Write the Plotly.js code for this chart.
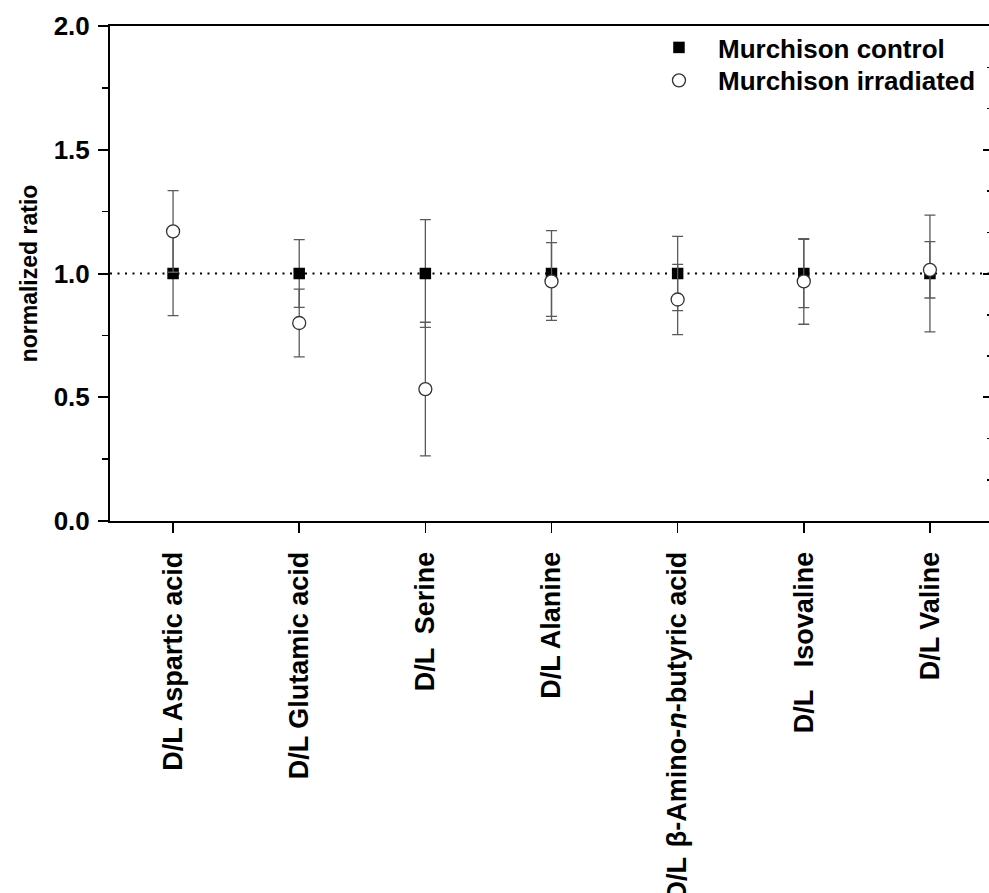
<!DOCTYPE html>
<html>
<head>
<meta charset="utf-8">
<script src="https://cdn.plot.ly/plotly-3.0.1.min.js"></script>
<style>
html, body { margin: 0; padding: 0; overflow: hidden; background: #fff; }
#chart { width: 1000px; height: 893px; }
</style>
</head>
<body>
<div id="chart"></div>
<script>
// ---- data ----
const categories = [
  "D/L Aspartic acid",
  "D/L Glutamic acid",
  "D/L\u2002Serine",
  "D/L Alanine",
  "D/L\u00A0\u200A\u03B2-Amino-<i>n</i>-butyric acid",
  "D/L\u00A0\u00A0\u00A0Isovaline",
  "D/L Valine"
];
const controlValues = [1.0, 1.0, 1.0, 1.0, 1.0, 1.0, 1.0];
const controlErrors = [0.17, 0.137, 0.218, 0.173, 0.15, 0.138, 0.236];
const irradiatedValues = [1.17, 0.80, 0.533, 0.968, 0.895, 0.968, 1.015];
const irradiatedErrors = [0.165, 0.137, 0.27, 0.157, 0.142, 0.173, 0.114];
const referenceLevel = 1.0;
const yTickVals = [0.0, 0.5, 1.0, 1.5, 2.0];
const yTickText = ["0.0", "0.5", "1.0", "1.5", "2.0"];

const FONT = "Liberation Sans, Arial, Helvetica, sans-serif";
const errStyle = { type: "data", visible: true, color: "#5a5a5a", thickness: 1.3, width: 5.5 };
const legendFont = { family: FONT, size: 26, weight: "bold", color: "#000" };

const traces = [
  {
    x: categories, y: controlValues, type: "scatter", mode: "markers",
    name: "Murchison control", legend: "legend",
    marker: { symbol: "square", size: 11.5, color: "#000000", line: { width: 0 } },
    error_y: Object.assign({ array: controlErrors }, errStyle)
  },
  {
    x: categories, y: irradiatedValues, type: "scatter", mode: "markers",
    name: "Murchison irradiated", legend: "legend2",
    marker: { symbol: "circle", size: 13, color: "#ffffff", line: { width: 1.3, color: "#333333" } },
    error_y: Object.assign({ array: irradiatedErrors }, errStyle)
  },
  {
    x: categories, y: controlValues, type: "scatter", mode: "none",
    yaxis: "y2", showlegend: false, hoverinfo: "skip"
  }
];

const layout = {
  width: 1000, height: 893,
  margin: { l: 110, r: 7, t: 26, b: 372 },
  paper_bgcolor: "#ffffff", plot_bgcolor: "#ffffff",
  font: { family: FONT, color: "#000000" },
  showlegend: true,
  legend: {
    x: 0.6002, y: 1.004, xanchor: "left", yanchor: "top",
    bgcolor: "rgba(0,0,0,0)", borderwidth: 0,
    font: legendFont, itemwidth: 68
  },
  legend2: {
    x: 0.6002, y: 0.9375, xanchor: "left", yanchor: "top",
    bgcolor: "rgba(0,0,0,0)", borderwidth: 0,
    font: legendFont, itemwidth: 68
  },
  xaxis: {
    type: "category", range: [-0.5, 6.5],
    showline: true, linecolor: "#000", linewidth: 2, mirror: true,
    ticks: "outside", ticklen: 10, tickwidth: 1.5, tickcolor: "#000",
    tickangle: -90, showgrid: false, zeroline: false, ticklabelstandoff: 8,
    tickfont: { family: FONT, size: 27, weight: "bold", color: "#000" },
    automargin: false
  },
  yaxis: {
    range: [0, 2], tickvals: yTickVals, ticktext: yTickText,
    showline: true, linecolor: "#000", linewidth: 2, mirror: true,
    ticks: "outside", ticklen: 10, tickwidth: 2, tickcolor: "#000",
    minor: { dtick: 0.25, ticks: "outside", ticklen: 6, tickwidth: 1.5, tickcolor: "#000", showgrid: false },
    showgrid: false, zeroline: false, ticklabelstandoff: 3,
    tickfont: { family: FONT, size: 26, weight: "bold", color: "#000" },
    title: { text: "normalized ratio", standoff: 10, font: { family: FONT, size: 23, weight: "bold", color: "#000" } },
    automargin: false
  },
  yaxis2: {
    overlaying: "y", side: "right", range: [0, 2],
    dtick: 0.5, tick0: 0, ticks: "inside", ticklen: 10, tickwidth: 2, tickcolor: "#000",
    minor: { dtick: 0.5 / 3, tick0: 0, ticks: "inside", ticklen: 6, tickwidth: 1.5, tickcolor: "#000", showgrid: false },
    showticklabels: false, showgrid: false, zeroline: false, showline: true, linecolor: "#000", linewidth: 2
  },
  shapes: [
    {
      type: "line", xref: "paper", x0: 0, x1: 1, yref: "y", y0: referenceLevel, y1: referenceLevel,
      line: { color: "#000000", width: 2, dash: "2px,5.5px" }, layer: "below"
    }
  ]
};

Plotly.newPlot("chart", traces, layout, { displayModeBar: false, staticPlot: true });
</script>
</body>
</html>
